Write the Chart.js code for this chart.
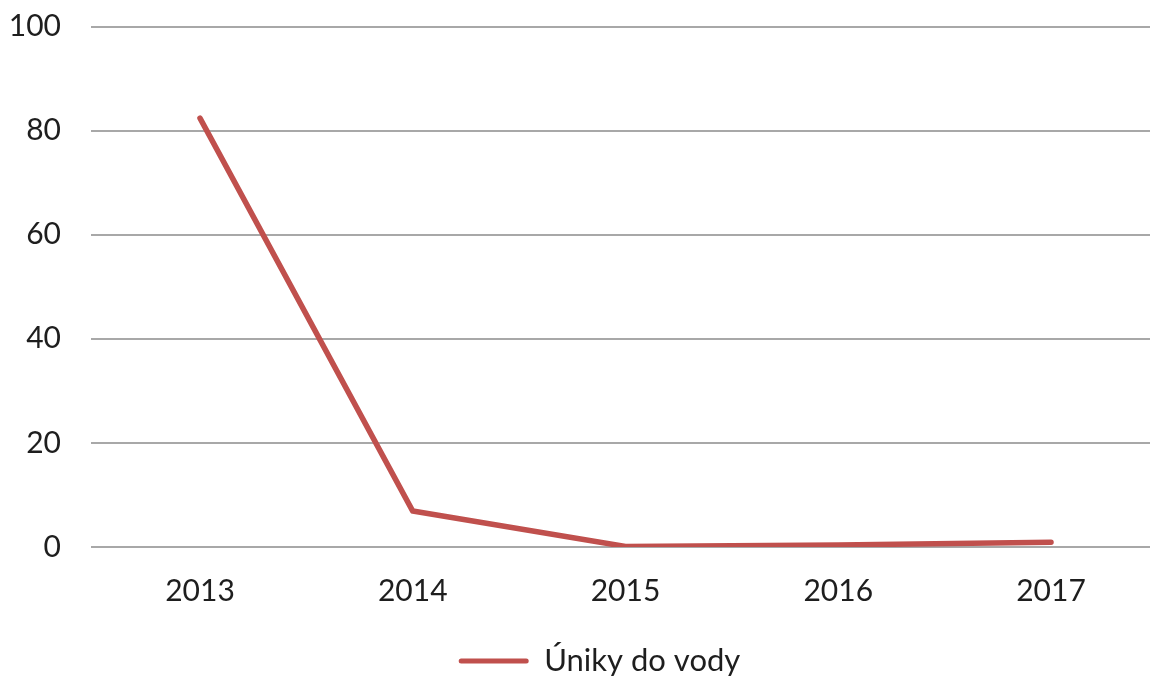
<!DOCTYPE html>
<html>
<head>
<meta charset="utf-8">
<script src="https://cdn.jsdelivr.net/npm/chart.js@4.4.0/dist/chart.umd.min.js"></script>
<style>
html,body{margin:0;padding:0;background:#fff;}
#wrap{width:1150px;height:680px;}
</style>
</head>
<body>
<div id="wrap"><canvas id="c" width="1150" height="680"></canvas></div>
<script>
const categories = ["2013", "2014", "2015", "2016", "2017"];
const seriesName = "Úniky do vody";
const seriesValues = [82.4, 6.9, 0.1, 0.4, 0.9];
const yTicks = [0, 20, 40, 60, 80, 100];

const red = "#C0504D";
const textColor = "#1E1E1E";
const gridColor = "#A8A8A8";
const fontFamily = "Lato, 'Open Sans', sans-serif";

const layoutTweak = {
  id: "layoutTweak",
  afterLayout(chart) {
    const lg = chart.legend;
    if (lg) { lg.left += 24.5; lg.right += 24.5; }
    const x = chart.scales.x;
    x.left = 93.6;
    x.right = x.left + 1063.8;
    x.width = x.right - x.left;
    x.configure();
    chart.chartArea.right = x.right;
    chart.chartArea.width = chart.chartArea.right - chart.chartArea.left;
  }
};

function noPad(s) {
  s.paddingTop = 0; s.paddingBottom = 0; s.paddingLeft = 0; s.paddingRight = 0;
}

new Chart(document.getElementById("c"), {
  type: "line",
  data: {
    labels: categories,
    datasets: [{
      label: seriesName,
      data: seriesValues,
      borderColor: red,
      backgroundColor: red,
      borderWidth: 5.5,
      pointRadius: 0,
      pointHoverRadius: 0,
      tension: 0,
      borderCapStyle: "round",
      borderJoinStyle: "round"
    }]
  },
  plugins: [layoutTweak],
  options: {
    responsive: false,
    animation: false,
    devicePixelRatio: 1,
    layout: { padding: { top: 26.5, right: 0, left: 0, bottom: -6.5 } },
    plugins: {
      tooltip: { enabled: false },
      legend: {
        position: "bottom",
        labels: {
          color: textColor,
          font: { family: fontFamily, size: 31 },
          boxWidth: 70,
          boxHeight: 5,
          padding: 4,
          generateLabels: (chart) => chart.data.datasets.map((ds, i) => ({
            text: ds.label,
            fillStyle: ds.borderColor,
            strokeStyle: ds.borderColor,
            lineWidth: 0,
            borderRadius: 2.5,
            fontColor: textColor,
            datasetIndex: i
          }))
        }
      }
    },
    scales: {
      x: {
        offset: true,
        grid: { display: false, drawTicks: false },
        border: { display: false },
        ticks: {
          color: textColor,
          font: { family: fontFamily, size: 30 },
          padding: 26,
          maxRotation: 0
        },
        afterFit: (s) => { s.height = 94.5; noPad(s); }
      },
      y: {
        min: 0,
        max: 100,
        afterBuildTicks: (s) => { s.ticks = yTicks.map(v => ({ value: v })); },
        grid: { color: gridColor, lineWidth: 2, drawTicks: false },
        border: { display: false },
        ticks: {
          color: textColor,
          font: { family: fontFamily, size: 30 },
          padding: 30
        },
        afterFit: (s) => { s.width = 91; noPad(s); }
      }
    }
  }
});
</script>
</body>
</html>
